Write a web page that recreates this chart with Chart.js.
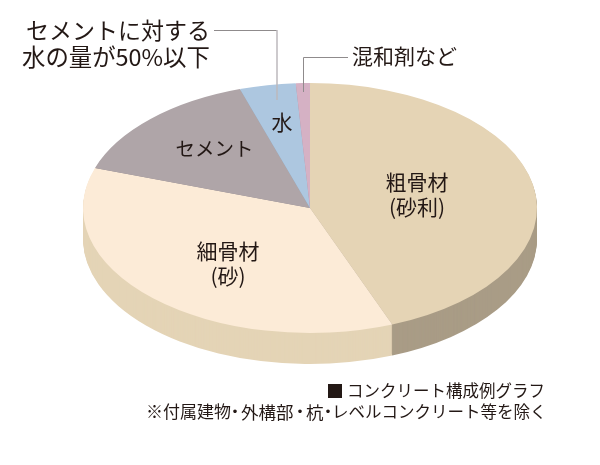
<!DOCTYPE html>
<html>
<head>
<meta charset="utf-8">
<style>
  html, body { margin: 0; padding: 0; background: #fff; }
  #wrap { width: 600px; height: 465px; }
</style>
<script src="https://cdn.jsdelivr.net/npm/chart.js@4/dist/chart.umd.min.js"></script>
</head>
<body>
<div id="wrap"><canvas id="myChart"></canvas></div>
<script>
const categories = ["粗骨材", "細骨材", "セメント", "水", "混和剤"];
const shares = [44.1, 36.1, 14.8, 4.0, 1.0];
const topColors = ["#e5d4b5", "#fcebd7", "#afa5a8", "#adc7e0", "#d5b1c4"];
const sideColors = ["#a99c86", "#e4d4b6", "#8f8689", "#8ea3b8", "#ae90a0"];

const RADIUS = 227;
const SQUASH = 125 / 227;
const DEPTH = 31;
const INK = "#231815";
const JP = '"Noto Sans CJK JP"';

// [text, x, y, px, align]
const labels = [
  ["セメントに対する", 26, 30, 23, "left"],
  ["水の量が50%以下", 22, 57.5, 23.4, "left"],
  ["混和剤など", 352, 56, 21, "left"],
  ["水", 282, 122, 21, "center"],
  ["セメント", 214.5, 149, 19.5, "center"],
  ["粗骨材", 417, 182, 21, "center"],
  ["(砂利)", 417, 207, 21, "center"],
  ["細骨材", 228, 251, 21, "center"],
  ["(砂)", 228, 276, 21, "center"],
  ["コンクリート構成例グラフ", 347, 391, 16.5, "left"],
  // the dots in this line are set tight, so it goes in pieces
  ["※付属建物", 146, 412, 17, "left"],
  ["・", 235, 412, 17, "center"],
  ["外構部", 241, 412, 17.5, "left"],
  ["・", 300, 412, 17, "center"],
  ["杭", 306, 412, 17.5, "left"],
  ["・", 328, 412, 17, "center"],
  ["レベルコンクリート等を除く", 332, 412, 16.5, "left"]
];

function squash(ctx, arc) {
  ctx.translate(arc.x, arc.y);
  ctx.scale(1, SQUASH);
  ctx.translate(-arc.x, -arc.y);
}

const tiltPlugin = {
  id: "tilt",
  beforeDatasetDraw(chart, args) {
    const ctx = chart.ctx;
    const arcs = args.meta.data;
    // side wall: the same slices stacked downwards, one pixel at a time
    for (let d = DEPTH; d > 0; d--) {
      arcs.forEach((arc, i) => {
        const p = arc.getProps(["x", "y", "startAngle", "endAngle", "outerRadius"], true);
        ctx.save();
        ctx.translate(0, d);
        squash(ctx, p);
        ctx.fillStyle = sideColors[i];
        ctx.beginPath();
        ctx.moveTo(p.x, p.y);
        ctx.arc(p.x, p.y, p.outerRadius, p.startAngle, p.endAngle);
        ctx.closePath();
        ctx.fill();
        ctx.restore();
      });
    }
    ctx.save();
    squash(ctx, arcs[0].getProps(["x", "y"], true));
  },
  afterDatasetDraw(chart) {
    chart.ctx.restore();
  },
  afterDraw(chart) {
    const ctx = chart.ctx;
    ctx.save();

    // leader lines
    ctx.strokeStyle = "#8f8b8c";
    ctx.lineWidth = 1;
    ctx.beginPath();
    ctx.moveTo(214, 30.5);
    ctx.lineTo(277, 30.5);
    ctx.stroke();
    ctx.strokeStyle = "#bdb9bc";
    ctx.lineWidth = 1.5;
    ctx.beginPath();
    ctx.moveTo(277, 30);
    ctx.lineTo(277, 100);
    ctx.stroke();
    ctx.strokeStyle = "#8f8b8c";
    ctx.lineWidth = 1;
    ctx.beginPath();
    ctx.moveTo(348, 57.5);
    ctx.lineTo(303.5, 57.5);
    ctx.lineTo(303.5, 92);
    ctx.stroke();

    // legend square
    ctx.fillStyle = INK;
    ctx.fillRect(328, 384, 14, 14);

    ctx.textBaseline = "middle";
    labels.forEach(([text, x, y, px, align]) => {
      ctx.font = px + "px " + JP;
      ctx.textAlign = align;
      ctx.fillText(text, x, y);
    });
    ctx.restore();
  }
};

new Chart(document.getElementById("myChart"), {
  type: "pie",
  data: {
    labels: categories,
    datasets: [{
      data: shares,
      backgroundColor: topColors,
      borderWidth: 0,
      clip: false
    }]
  },
  options: {
    responsive: true,
    maintainAspectRatio: false,
    animation: false,
    radius: RADIUS,
    layout: { padding: { left: 20, bottom: 49 } },
    plugins: { legend: { display: false }, tooltip: { enabled: false } }
  },
  plugins: [tiltPlugin]
});
</script>
</body>
</html>
